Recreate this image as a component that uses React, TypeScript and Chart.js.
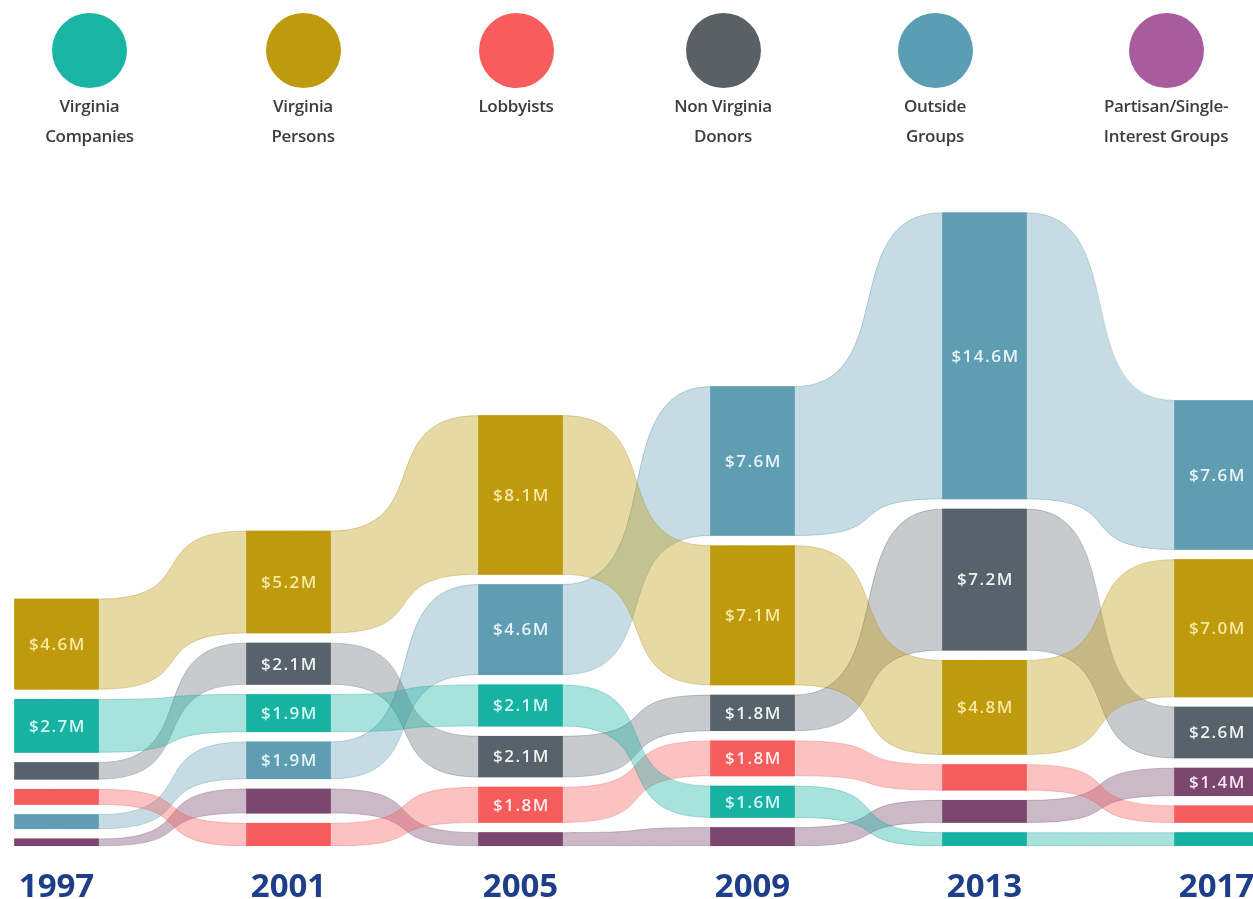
import React, { useEffect, useRef } from 'react';
import { Chart, registerables } from 'chart.js';

Chart.register(...registerables);

// ---------- data ----------
const years = ['1997', '2001', '2005', '2009', '2013', '2017'];
const categories = [
  'Virginia Companies',
  'Virginia Persons',
  'Lobbyists',
  'Non Virginia Donors',
  'Outside Groups',
  'Partisan/Single-Interest Groups',
];
const legendLines = [
  ['Virginia', 'Companies'],
  ['Virginia', 'Persons'],
  ['Lobbyists'],
  ['Non Virginia', 'Donors'],
  ['Outside', 'Groups'],
  ['Partisan/Single-', 'Interest Groups'],
];
// contributions in $ millions per election year
const vaCompanies = [2.7, 1.9, 2.1, 1.6, 0.68, 0.68];
const vaPersons = [4.6, 5.2, 8.1, 7.1, 4.8, 7.0];
const lobbyists = [0.77, 1.16, 1.8, 1.78, 1.3, 0.85];
const nonVaDonors = [0.85, 2.1, 2.08, 1.82, 7.2, 2.6];
const outsideGroups = [0.72, 1.88, 4.6, 7.6, 14.6, 7.6];
const partisan = [0.36, 1.23, 0.68, 0.94, 1.13, 1.4];
const series = [vaCompanies, vaPersons, lobbyists, nonVaDonors, outsideGroups, partisan];

// ---------- style ----------
const W = 1253;
const H = 899;
const X0 = 56.5; // pixel of first year
const XPX = 232; // pixels per year step
const BAR_W = 84;
const PX_PER_M = 19.6;
const BOTTOM_PAD = 53;
const GAP = 0.52; // gap between stacked bars (in $M units)
const HALF = BAR_W / 2 / XPX;
const CURVE_K = 0.72; // horizontal reach of ribbon bezier handles
const LABEL_MIN = 1.35;

const barColors = ['#17b2a2', '#bf9a0c', '#f75c5c', '#57626a', '#5f9db3', '#7a466f'];
const legendColors = ['#1ab4a5', '#bf9a0c', '#f85c5c', '#596166', '#5b9eb4', '#a85c9d'];
const ribbonColors = [
  'rgba(23,178,162,0.38)',
  'rgba(191,154,12,0.38)',
  'rgba(247,92,92,0.38)',
  'rgba(87,98,106,0.33)',
  'rgba(95,157,179,0.36)',
  'rgba(122,70,111,0.38)',
];
const edgeColors = [
  'rgba(23,150,140,0.3)',
  'rgba(150,120,10,0.28)',
  'rgba(220,80,80,0.28)',
  'rgba(70,80,90,0.28)',
  'rgba(70,120,140,0.28)',
  'rgba(100,60,90,0.28)',
];
const labelColors = ['#d4f6f1', '#f7e8a2', '#ffecec', '#eef1f3', '#e8f3f7', '#f5e6f2'];
const legendX = [89.5, 303, 516, 723, 935, 1166];

// ---------- stacking ----------
const lo: number[][] = series.map(() => []);
const hi: number[][] = series.map(() => []);
years.forEach((_, i) => {
  const order = series.map((_s, c) => c).sort((a, b) => series[a][i] - series[b][i]);
  let cur = 0;
  for (const c of order) {
    lo[c][i] = cur;
    hi[c][i] = cur + series[c][i];
    cur = hi[c][i] + GAP;
  }
});

const ribbonPoints = (vals: number[]) => {
  const pts: { x: number; y: number }[] = [];
  vals.forEach((v, i) => {
    pts.push({ x: i - HALF, y: v }, { x: i + HALF, y: v });
  });
  return pts;
};

// shape ribbons as sankey-style S-curves with horizontal tangents
const ribbonShapePlugin = {
  id: 'ribbonShape',
  afterDatasetsUpdate(chart: any) {
    chart.data.datasets.forEach((ds: any, di: number) => {
      if (ds.type !== 'line') return;
      const meta = chart.getDatasetMeta(di);
      const line = meta.dataset;
      if (!line) return;
      line.updateControlPoints(chart.chartArea, 'x');
      const pts = meta.data;
      for (let j = 0; j < pts.length; j++) {
        const p = pts[j];
        const prev = pts[j - 1];
        const next = pts[j + 1];
        if (next) {
          const dx = next.x - p.x;
          p.cp2x = p.x + CURVE_K * dx;
          p.cp2y = p.y;
        }
        if (prev) {
          const dx = p.x - prev.x;
          p.cp1x = p.x - CURVE_K * dx;
          p.cp1y = p.y;
        }
      }
    });
  },
};

const barLabelPlugin = {
  id: 'barLabels',
  afterDatasetsDraw(chart: any) {
    const ctx = chart.ctx;
    chart.data.datasets.forEach((ds: any, di: number) => {
      if (ds.type !== 'bar') return;
      const c = ds.catIndex;
      const meta = chart.getDatasetMeta(di);
      meta.data.forEach((el: any, i: number) => {
        const v = series[c][i];
        if (v < LABEL_MIN) return;
        const { x, y, base } = el.getProps(['x', 'y', 'base'], true);
        ctx.save();
        ctx.font = '600 17px "Open Sans"';
        try { ctx.letterSpacing = '1.5px'; } catch (e) {}
        ctx.fillStyle = labelColors[c];
        ctx.textAlign = 'center';
        ctx.textBaseline = 'middle';
        ctx.fillText('$' + v.toFixed(1) + 'M', x + 1, (y + base) / 2 + 1);
        ctx.restore();
      });
    });
  },
};

const yearLabelPlugin = {
  id: 'yearLabels',
  afterDraw(chart: any) {
    const ctx = chart.ctx;
    const xs = chart.scales.x;
    ctx.save();
    ctx.font = 'bold 33px "Open Sans"';
    ctx.fillStyle = '#1f3e8a';
    ctx.textAlign = 'center';
    ctx.textBaseline = 'alphabetic';
    years.forEach((yr, i) => {
      ctx.fillText(yr, xs.getPixelForValue(i), chart.chartArea.bottom + 51);
    });
    ctx.restore();
  },
};

export default function App() {
  const ref = useRef<HTMLCanvasElement>(null);

  useEffect(() => {
    if (!ref.current) return;
    const datasets: any[] = [];
    series.forEach((_, c) => {
      datasets.push({
        type: 'line',
        label: categories[c] + ' top',
        data: ribbonPoints(hi[c]),
        borderColor: edgeColors[c],
        borderWidth: 1,
        pointRadius: 0,
        fill: false,
        cubicInterpolationMode: 'monotone',
        order: 1,
      });
      datasets.push({
        type: 'line',
        label: categories[c],
        data: ribbonPoints(lo[c]),
        borderColor: edgeColors[c],
        borderWidth: 1,
        pointRadius: 0,
        fill: '-1',
        backgroundColor: ribbonColors[c],
        cubicInterpolationMode: 'monotone',
        order: 1,
      });
    });
    series.forEach((_, c) => {
      datasets.push({
        type: 'bar',
        label: categories[c],
        catIndex: c,
        data: years.map((_y, i) => ({ x: i, y: [lo[c][i], hi[c][i]] })),
        backgroundColor: barColors[c],
        borderWidth: 0,
        barThickness: BAR_W,
        grouped: false,
        order: 0,
      });
    });

    const chart = new Chart(ref.current, {
      type: 'bar',
      data: { datasets },
      options: {
        responsive: false,
        animation: false,
        devicePixelRatio: 1,
        events: [],
        layout: { padding: { top: 0, left: 0, right: 0, bottom: BOTTOM_PAD } },
        plugins: { legend: { display: false }, tooltip: { enabled: false } },
        scales: {
          x: {
            type: 'linear',
            display: false,
            offset: false,
            min: -X0 / XPX,
            max: (W - X0) / XPX,
          },
          y: {
            type: 'linear',
            display: false,
            min: 0,
            max: (H - BOTTOM_PAD) / PX_PER_M,
          },
        },
      } as any,
      plugins: [ribbonShapePlugin, barLabelPlugin, yearLabelPlugin],
    });
    return () => chart.destroy();
  }, []);

  return (
    <div
      style={{
        position: 'absolute',
        left: 0,
        top: 0,
        width: W,
        height: H,
        overflow: 'hidden',
        background: '#ffffff',
      }}
    >
      <canvas ref={ref} width={W} height={H} style={{ position: 'absolute', left: 0, top: 0 }} />
      {categories.map((cat, k) => (
        <div
          key={cat}
          style={{
            position: 'absolute',
            left: legendX[k] - 90,
            top: 13,
            width: 180,
            textAlign: 'center',
          }}
        >
          <div
            style={{
              width: 75,
              height: 75,
              borderRadius: '50%',
              background: legendColors[k],
              margin: '0 auto',
            }}
          />
          <div
            style={{
              marginTop: 3,
              fontFamily: '"Open Sans", sans-serif',
              fontWeight: 600,
              fontSize: 17,
              lineHeight: '30px',
              color: '#3c3c3c',
              letterSpacing: '-0.3px',
            }}
          >
            {legendLines[k].map((l) => (
              <div key={l}>{l}</div>
            ))}
          </div>
        </div>
      ))}
    </div>
  );
}
